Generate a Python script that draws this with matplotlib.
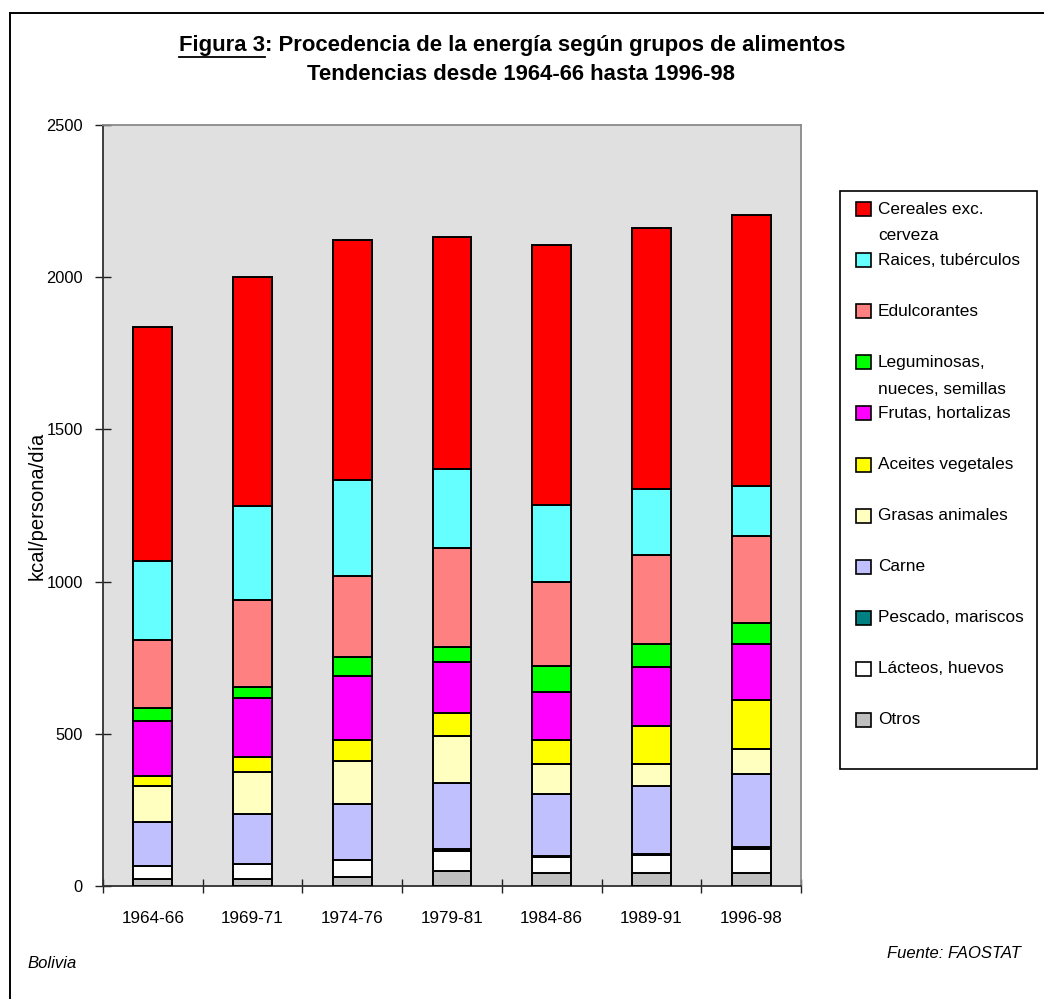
import numpy as np
import matplotlib
matplotlib.use("Agg")
import matplotlib.pyplot as plt
from matplotlib.patches import Rectangle
from matplotlib.lines import Line2D

plt.rcParams['font.family'] = ['Liberation Sans', 'DejaVu Sans']

# ---------------- data ----------------
periods = ["1964-66", "1969-71", "1974-76", "1979-81", "1984-86", "1989-91", "1996-98"]

# stacked from bottom to top
otros        = [24, 24, 31, 48, 43, 43, 43]
lacteos      = [41, 47, 53, 68, 53, 59, 80]
pescado      = [2, 2, 2, 7, 2, 2, 6]
carne        = [143, 162, 185, 217, 204, 223, 240]
grasas       = [117, 141, 141, 153, 98, 73, 82]
aceites      = [36, 49, 69, 74, 81, 124, 159]
frutas       = [180, 191, 210, 168, 155, 197, 186]
leguminosas  = [43, 38, 62, 49, 87, 75, 67]
edulcorantes = [222, 284, 267, 327, 277, 290, 286]
raices       = [259, 310, 314, 260, 253, 217, 166]
cereales     = [768, 752, 788, 761, 852, 858, 889]

series_bottom_up = [otros, lacteos, pescado, carne, grasas, aceites,
                    frutas, leguminosas, edulcorantes, raices, cereales]
names_bottom_up = ["Otros", "Lácteos, huevos", "Pescado, mariscos", "Carne",
                   "Grasas animales", "Aceites vegetales", "Frutas, hortalizas",
                   "Leguminosas, nueces, semillas", "Edulcorantes",
                   "Raices, tubérculos", "Cereales exc. cerveza"]
colors_bottom_up = ["#C0C0C0", "#FFFFFF", "#008080", "#C0C0FF", "#FFFFC0",
                    "#FFFF00", "#FF00FF", "#00FF00", "#FF8080", "#66FFFF", "#FF0000"]
# legend labels (top-down order, with line wraps as in the reference)
legend_labels = ["Cereales exc.\ncerveza", "Raices, tubérculos", "Edulcorantes",
                 "Leguminosas,\nnueces, semillas", "Frutas, hortalizas",
                 "Aceites vegetales", "Grasas animales", "Carne",
                 "Pescado, mariscos", "Lácteos, huevos", "Otros"]

yticks = [0, 500, 1000, 1500, 2000, 2500]

# ---------------- figure ----------------
W, H = 1044, 999
fig = plt.figure(figsize=(W / 100, H / 100), dpi=100)
fig.patch.set_facecolor("white")

ax_l, ax_r, ax_t, ax_b = 103, 801, 125, 886
ax = fig.add_axes([ax_l / W, 1 - ax_b / H, (ax_r - ax_l) / W, (ax_b - ax_t) / H])
ax.set_facecolor("#E0E0E0")

x = np.arange(len(periods))
bottom = np.zeros(len(periods))
for vals, c, n in zip(series_bottom_up, colors_bottom_up, names_bottom_up):
    v = np.array(vals, dtype=float)
    ax.bar(x, v, bottom=bottom, width=0.39, color=c, edgecolor="black",
           linewidth=1.4, label=n, zorder=3)
    bottom += v

ax.set_xlim(-0.5, len(periods) - 0.5)
ax.set_ylim(0, 2500)

# x ticks at category boundaries, labels at centres
ax.set_xticks(np.arange(-0.5, len(periods)), labels=[""] * (len(periods) + 1))
ax.set_xticks(x, labels=periods, minor=True)
ax.tick_params(axis="x", which="major", direction="inout", length=10, width=1, color="#202020")
ax.tick_params(axis="x", which="minor", length=0, pad=18, labelsize=12.3)
ax.set_yticks(yticks)
ax.tick_params(axis="y", direction="inout", length=11, width=1, color="#202020",
               pad=9, labelsize=11.8)

for s in ["left", "bottom"]:
    ax.spines[s].set_color("#303030")
    ax.spines[s].set_linewidth(1.3)
for s in ["top", "right"]:
    ax.spines[s].set_color("#8A8A8A")
    ax.spines[s].set_linewidth(1.3)

# ---------------- overlay in pixel coordinates ----------------
ov = fig.add_axes([0, 0, 1, 1], facecolor="none")
ov.set_xlim(0, W)
ov.set_ylim(H, 0)
ov.axis("off")

# outer frame (cropped at right and bottom)
ov.add_line(Line2D([10, W], [13, 13], color="black", linewidth=1.4))
ov.add_line(Line2D([10, 10], [13, H], color="black", linewidth=1.4))

# y label
ov.text(37, 506, "kcal/persona/día", rotation=90, ha="center", va="center", fontsize=14.5)

# title
fig.canvas.draw()
renderer = fig.canvas.get_renderer()
t_a = ov.text(0, 46, "Figura 3", fontsize=15.9, fontweight="bold", ha="left", va="center")
t_b = ov.text(0, 46, ": Procedencia de la energía según grupos de alimentos",
              fontsize=15.9, fontweight="bold", ha="left", va="center")
wa = t_a.get_window_extent(renderer).width
wb = t_b.get_window_extent(renderer).width
cx = 512
start = cx - (wa + wb) / 2
t_a.set_x(start)
t_b.set_x(start + wa)
ov.add_line(Line2D([start, start + wa], [56.5, 56.5], color="black", linewidth=1.3))
ov.text(521, 75, "Tendencias desde 1964-66 hasta 1996-98", fontsize=15.9,
        fontweight="bold", ha="center", va="center")

# legend box
ov.add_patch(Rectangle((840, 191), 197, 578, facecolor="white", edgecolor="black",
                       linewidth=1.2))
colors_top_down = colors_bottom_up[::-1]
for i, (lab, c) in enumerate(zip(legend_labels, colors_top_down)):
    yc = 209 + i * 51.1
    ov.add_patch(Rectangle((856, yc - 7), 15, 14, facecolor=c, edgecolor="black",
                           linewidth=1.2))
    for k, line in enumerate(lab.split("\n")):
        ov.text(878, yc + k * 27, line, fontsize=12.4, ha="left", va="center")

# footnotes
ov.text(27, 964, "Bolivia", fontsize=12, style="italic", ha="left", va="center")
ov.text(1021, 953, "Fuente: FAOSTAT", fontsize=12, style="italic", ha="right", va="center")

fig.savefig("out.png", dpi=100)
